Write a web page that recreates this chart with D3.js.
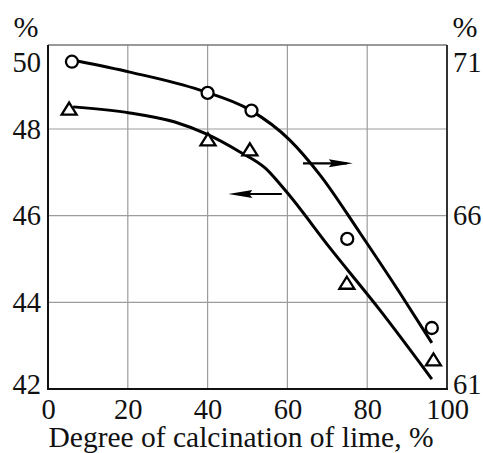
<!DOCTYPE html>
<html>
<head>
<meta charset="utf-8">
<script src="https://cdn.jsdelivr.net/npm/d3@7/dist/d3.min.js"></script>
</head>
<body style="margin:0">
<svg id="chart" width="483" height="453"></svg>
<script>
// Calcination degree of lime (%) against two measured quantities.
const xTicks = [0, 20, 40, 60, 80, 100];
const leftTicks = [42, 44, 46, 48, 50];
const rightTicks = [61, 66, 71];

// Circles: right-hand scale (61–71 %)
const circleX = [6, 40, 51, 75, 96.2];
const circleY = [70.44, 69.54, 69.03, 65.33, 62.76];
// Triangles: left-hand scale (42–50 %)
const triX = [5.3, 40.1, 50.6, 74.9, 96.6];
const triY = [48.46, 47.75, 47.52, 44.44, 42.67];

// Smoothed trend curves
const upperCurveX = [7.3, 20.5, 38.1, 50.6, 60.6, 68.2, 78.2, 88.2, 96.2];
const upperCurveY = [70.46, 70.14, 69.62, 69.05, 68.18, 67.17, 65.50, 63.77, 62.33];
const lowerCurveX = [6.3, 20.5, 31.8, 39.8, 48.1, 54.4, 59.4, 70.7, 83.2, 96.2];
const lowerCurveY = [48.51, 48.37, 48.16, 47.88, 47.47, 47.10, 46.59, 45.25, 43.82, 42.23];

// Arrows pointing each curve to its axis
const rightArrowX = [63.9, 76.4], rightArrowY = 67.51;
const leftArrowX = [58.6, 45.2], leftArrowY = 46.5;

const xTitle = "Degree of calcination of lime, %";

const svg = d3.select("#chart");
const L = 48, R = 447, T = 45, B = 389;
const FONT = '"Liberation Serif"';

const x = d3.scaleLinear().domain([0, 100]).range([L, R]);
const yL = d3.scaleLinear().domain([42, 50]).range([B, 42.3]);
const yR = d3.scaleLinear().domain([61, 71]).range([B, 42.3]);

// Grid
const grid = svg.append("g").attr("stroke", "#9c9c9c").attr("stroke-width", 1.2);
grid.selectAll("line.v").data(xTicks.filter(d => d > 0 && d < 100)).join("line")
  .attr("x1", d => x(d)).attr("x2", d => x(d)).attr("y1", T).attr("y2", B);
grid.selectAll("line.h").data(leftTicks.filter(d => d > 42 && d < 50)).join("line")
  .attr("x1", L).attr("x2", R).attr("y1", d => yL(d)).attr("y2", d => yL(d));

// Frame
svg.append("line").attr("x1", L).attr("x2", R).attr("y1", T).attr("y2", T)
  .attr("stroke", "#777").attr("stroke-width", 1.5);
svg.append("line").attr("x1", R).attr("x2", R).attr("y1", T).attr("y2", B)
  .attr("stroke", "#333").attr("stroke-width", 2);
svg.append("line").attr("x1", L).attr("x2", L).attr("y1", T).attr("y2", B + 1)
  .attr("stroke", "#111").attr("stroke-width", 2);
svg.append("line").attr("x1", L - 1).attr("x2", R + 1).attr("y1", B).attr("y2", B)
  .attr("stroke", "#111").attr("stroke-width", 2);

// Axes
const axL = svg.append("g").attr("transform", `translate(${L},0)`)
  .call(d3.axisLeft(yL).tickValues(leftTicks).tickSize(0).tickPadding(7));
const axR = svg.append("g").attr("transform", `translate(${R},0)`)
  .call(d3.axisRight(yR).tickValues(rightTicks).tickSize(0).tickPadding(6));
const axB = svg.append("g").attr("transform", `translate(0,${B})`)
  .call(d3.axisBottom(x).tickValues(xTicks).tickSize(0).tickPadding(10));
[axL, axR, axB].forEach(g => {
  g.attr("font-family", null).attr("font-size", null);
  g.select(".domain").remove();
  g.selectAll("text")
    .style("font-family", FONT).attr("font-size", 28.5).attr("fill", "#111");
});
// End labels sit inside the frame corners
[axL, axR].forEach((g, i) => {
  const top = i === 0 ? 50 : 71, bottom = i === 0 ? 42 : 61;
  g.selectAll(".tick").filter(d => d === top).select("text").attr("y", 20);
  g.selectAll(".tick").filter(d => d === bottom).select("text").attr("y", -5);
});

// Unit labels and axis title
function label(tx, ty, str, size) {
  svg.append("text").attr("x", tx).attr("y", ty).attr("text-anchor", "middle")
    .style("font-family", FONT).attr("font-size", size).attr("fill", "#111")
    .text(str);
}
label(26, 37, "%", 30);
label(465, 37, "%", 30);
label(241, 447, xTitle, 29.5);

// Curves
const line = d3.line().curve(d3.curveMonotoneX);
svg.append("path")
  .attr("d", line(upperCurveX.map((d, i) => [x(d), yR(upperCurveY[i])])))
  .attr("fill", "none").attr("stroke", "#000").attr("stroke-width", 3);
svg.append("path")
  .attr("d", line(lowerCurveX.map((d, i) => [x(d), yL(lowerCurveY[i])])))
  .attr("fill", "none").attr("stroke", "#000").attr("stroke-width", 3);

// Markers
svg.selectAll("circle.pt").data(circleX).join("circle")
  .attr("cx", d => x(d)).attr("cy", (d, i) => yR(circleY[i])).attr("r", 6)
  .attr("fill", "#fff").attr("stroke", "#000").attr("stroke-width", 2.3);
svg.selectAll("path.tri").data(triX).join("path")
  .attr("transform", (d, i) => `translate(${x(d)},${yL(triY[i])})`)
  .attr("d", "M0,-6.5 L7.5,5.5 L-7.5,5.5 Z")
  .attr("fill", "#fff").attr("stroke", "#000").attr("stroke-width", 2.3)
  .attr("stroke-linejoin", "miter");

// Arrows
function arrow(x0, x1, yy) {
  const a = x(x0), b = x(x1), dir = Math.sign(b - a);
  svg.append("line").attr("x1", a).attr("x2", b - dir * 6).attr("y1", yy).attr("y2", yy)
    .attr("stroke", "#000").attr("stroke-width", 2.2);
  svg.append("path")
    .attr("d", `M${b},${yy} L${b - dir * 24},${yy - 4} L${b - dir * 21},${yy} L${b - dir * 24},${yy + 4} Z`)
    .attr("fill", "#000");
}
arrow(rightArrowX[0], rightArrowX[1], yR(rightArrowY));
arrow(leftArrowX[0], leftArrowX[1], yL(leftArrowY));
</script>
</body>
</html>
